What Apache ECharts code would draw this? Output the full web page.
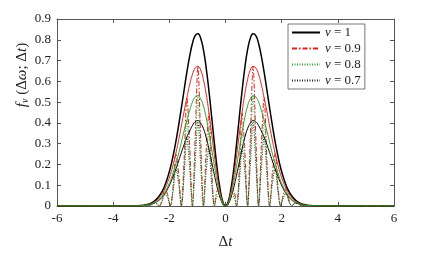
<!DOCTYPE html>
<html><head><meta charset="utf-8">
<script src="https://cdn.jsdelivr.net/npm/echarts@6/dist/echarts.min.js"></script>
<style>html,body{margin:0;padding:0;background:#fff}#c{width:436px;height:255px}</style>
</head><body><div id="c"></div>
<script>
// Δt sample positions
const dt = [-6,
-3.240,-3.142,-3.043,-2.945,-2.847,-2.749,-2.651,-2.553,-2.454,-2.356,-2.258,-2.160,-2.062,-1.963,-1.865,-1.767,-1.669,-1.571,-1.473,-1.374,-1.276,-1.178,-1.080,-0.982,-0.884,-0.785,-0.687,-0.589,-0.491,-0.393,-0.295,-0.196,-0.098,
0,
0.098,0.196,0.295,0.393,0.491,0.589,0.687,0.785,0.884,0.982,1.080,1.178,1.276,1.374,1.473,1.571,1.669,1.767,1.865,1.963,2.062,2.160,2.258,2.356,2.454,2.553,2.651,2.749,2.847,2.945,3.043,3.142,3.240,
6];
// ν = 1
const nu1 = [0,
0.001,0.001,0.002,0.003,0.006,0.009,0.014,0.022,0.033,0.049,0.070,0.099,0.137,0.184,0.242,0.310,0.388,0.472,0.559,0.645,0.721,0.782,0.820,0.829,0.807,0.751,0.664,0.553,0.427,0.298,0.179,0.084,0.022,
0,
0.022,0.084,0.179,0.298,0.427,0.553,0.664,0.751,0.807,0.829,0.820,0.782,0.721,0.645,0.559,0.472,0.388,0.310,0.242,0.184,0.137,0.099,0.070,0.049,0.033,0.022,0.014,0.009,0.006,0.003,0.002,0.001,0.001,
0];
// ν = 0.9 envelope and oscillating curve
const env09 = [0,
0.001,0.001,0.002,0.003,0.005,0.007,0.012,0.018,0.027,0.041,0.058,0.082,0.114,0.151,0.198,0.254,0.316,0.385,0.456,0.522,0.584,0.633,0.664,0.672,0.654,0.608,0.538,0.448,0.346,0.241,0.145,0.068,0.018,
0,
0.018,0.068,0.145,0.241,0.346,0.448,0.538,0.608,0.654,0.672,0.664,0.633,0.584,0.522,0.456,0.385,0.316,0.254,0.198,0.151,0.114,0.082,0.058,0.041,0.027,0.018,0.012,0.007,0.005,0.003,0.002,0.001,0.001,
0];
const osc09 = [0,
0,0,0.001,0.003,0.003,0,0.006,0.018,0.014,0,0.029,0.082,0.057,0,0.099,0.254,0.158,0,0.228,0.522,0.292,0,0.332,0.672,0.327,0,0.269,0.448,0.173,0,0.073,0.068,0.009,
0,
0.009,0.068,0.073,0,0.173,0.448,0.269,0,0.327,0.672,0.332,0,0.292,0.522,0.228,0,0.158,0.254,0.099,0,0.057,0.082,0.029,0,0.014,0.018,0.006,0,0.003,0.003,0.001,0,0,
0];
// ν = 0.8
const env08 = [0,
0,0.001,0.001,0.002,0.004,0.006,0.009,0.015,0.022,0.033,0.047,0.066,0.092,0.121,0.160,0.205,0.252,0.307,0.363,0.413,0.461,0.500,0.525,0.531,0.516,0.481,0.425,0.354,0.273,0.191,0.115,0.054,0.014,
0,
0.014,0.054,0.115,0.191,0.273,0.354,0.425,0.481,0.516,0.531,0.525,0.500,0.461,0.413,0.363,0.307,0.252,0.205,0.160,0.121,0.092,0.066,0.047,0.033,0.022,0.015,0.009,0.006,0.004,0.002,0.001,0.001,0,
0];
const osc08 = [0,
0,0,0.001,0.002,0.002,0,0.005,0.015,0.011,0,0.024,0.066,0.046,0,0.080,0.205,0.126,0,0.182,0.413,0.231,0,0.263,0.531,0.258,0,0.213,0.354,0.137,0,0.058,0.054,0.007,
0,
0.007,0.054,0.058,0,0.137,0.354,0.213,0,0.258,0.531,0.263,0,0.231,0.413,0.182,0,0.126,0.205,0.080,0,0.046,0.066,0.024,0,0.011,0.015,0.005,0,0.002,0.002,0.001,0,0,
0];
// ν = 0.7
const env07 = [0,
0,0.001,0.001,0.002,0.004,0.005,0.008,0.013,0.020,0.029,0.042,0.059,0.082,0.110,0.143,0.178,0.217,0.257,0.296,0.332,0.361,0.387,0.406,0.411,0.399,0.372,0.329,0.274,0.211,0.148,0.089,0.042,0.011,
0,
0.011,0.042,0.089,0.148,0.211,0.274,0.329,0.372,0.399,0.411,0.406,0.387,0.361,0.332,0.296,0.257,0.217,0.178,0.143,0.110,0.082,0.059,0.042,0.029,0.020,0.013,0.008,0.005,0.004,0.002,0.001,0.001,0,
0];
const osc07 = [0,
0,0,0.001,0.002,0.002,0,0.004,0.013,0.010,0,0.021,0.059,0.041,0,0.072,0.178,0.109,0,0.148,0.332,0.181,0,0.203,0.411,0.200,0,0.165,0.274,0.106,0,0.045,0.042,0.006,
0,
0.006,0.042,0.045,0,0.106,0.274,0.165,0,0.200,0.411,0.203,0,0.181,0.332,0.148,0,0.109,0.178,0.072,0,0.041,0.059,0.021,0,0.010,0.013,0.004,0,0.002,0.002,0.001,0,0,
0];
const xTicks = [-6,-4,-2,0,2,4,6];
const yTicks = [0,0.1,0.2,0.3,0.4,0.5,0.6,0.7,0.8,0.9];
const legendNames = ['ν = 1','ν = 0.9','ν = 0.8','ν = 0.7'];

const FONT = 'Liberation Serif';
const RED = '#e0221c', GREEN = '#2fa52f', BLACK = '#000000';
const pairs = ys => dt.map((x,i)=>[x, ys[i]]);

const axisLine = {show:true, onZero:false, lineStyle:{color:'#555', width:1}};
const tick = {show:true, inside:true, length:4, lineStyle:{color:'#555', width:1}};
const lbl = {color:'#222', fontFamily:FONT, fontSize:13};

function line(name, ys, color, width, type, smooth){
  return {name, type:'line', data:pairs(ys), showSymbol:false, symbol:'none', smooth:smooth,
    lineStyle:{color, width, type}, itemStyle:{color}, clip:true, emphasis:{disabled:true}};
}

const chart = echarts.init(document.getElementById('c'), null, {renderer:'canvas'});
chart.setOption({
  animation:false,
  backgroundColor:'#fff',
  grid:{left:57, right:42, top:19, bottom:41, containLabel:false},
  xAxis:[
    {type:'value', min:xTicks[0], max:xTicks[xTicks.length-1], interval:2, position:'bottom',
     axisLine, axisTick:tick, splitLine:{show:false},
     axisLabel:Object.assign({margin:6, formatter:v=>String(v)}, lbl),
     name:'Δ{i|t}', nameLocation:'middle', nameGap:29,
     nameTextStyle:{fontFamily:FONT, fontSize:15, color:'#222', rich:{i:{fontStyle:'italic', fontFamily:FONT, fontSize:15, color:'#222'}}}},
    {type:'value', min:-6, max:6, interval:2, position:'top', axisLine, axisTick:tick, axisLabel:{show:false}, splitLine:{show:false}}
  ],
  yAxis:[
    {type:'value', min:yTicks[0], max:yTicks[yTicks.length-1], interval:0.1, position:'left',
     axisLine, axisTick:tick, splitLine:{show:false},
     axisLabel:Object.assign({margin:6}, lbl)},
    {type:'value', min:0, max:0.9, interval:0.1, position:'right', axisLine, axisTick:tick, axisLabel:{show:false}, splitLine:{show:false}}
  ],
  legend:{
    data:legendNames, orient:'vertical', left:288, top:24,
    itemWidth:28, itemHeight:12, itemGap:3, padding:[2,4,2,3],
    borderColor:'#555', borderWidth:0.8, backgroundColor:'#fff', borderRadius:0,
    selectedMode:false,
    itemStyle:{opacity:0, borderWidth:0},
    formatter:n=>'{i|ν} = '+n.split('= ')[1],
    textStyle:{fontFamily:FONT, fontSize:13, color:'#222', lineHeight:12,
      rich:{i:{fontStyle:'italic', fontFamily:FONT, fontSize:13, color:'#222', lineHeight:12}}}
  },
  graphic:[{type:'text', x:22, y:75, rotation:Math.PI/2,
    style:{text:'{i|f}{s|ν} (Δ{i|ω}; Δ{i|t})', align:'center', verticalAlign:'middle',
      font:'15px '+FONT, fill:'#222',
      rich:{i:{fontStyle:'italic', fontFamily:FONT, fontSize:15, fill:'#222'},
            s:{fontStyle:'italic', fontFamily:FONT, fontSize:10, fill:'#222', padding:[7,0,0,0]}}}}],
  series:[
    line(legendNames[0], nu1, BLACK, 1.5, 'solid', true),
    line(legendNames[1], osc09, RED, 1, [5,2,1.5,2], 0.3),
    line('env09', env09, RED, 1, 'solid', true),
    line(legendNames[3], osc07, '#222', 1, [1,1.5], 0.3),
    line('env07', env07, BLACK, 1, 'solid', true),
    line(legendNames[2], osc08, GREEN, 1, [1,1.5], 0.3),
    line('env08', env08, GREEN, 1, 'solid', true)
  ]
});
</script></body></html>
